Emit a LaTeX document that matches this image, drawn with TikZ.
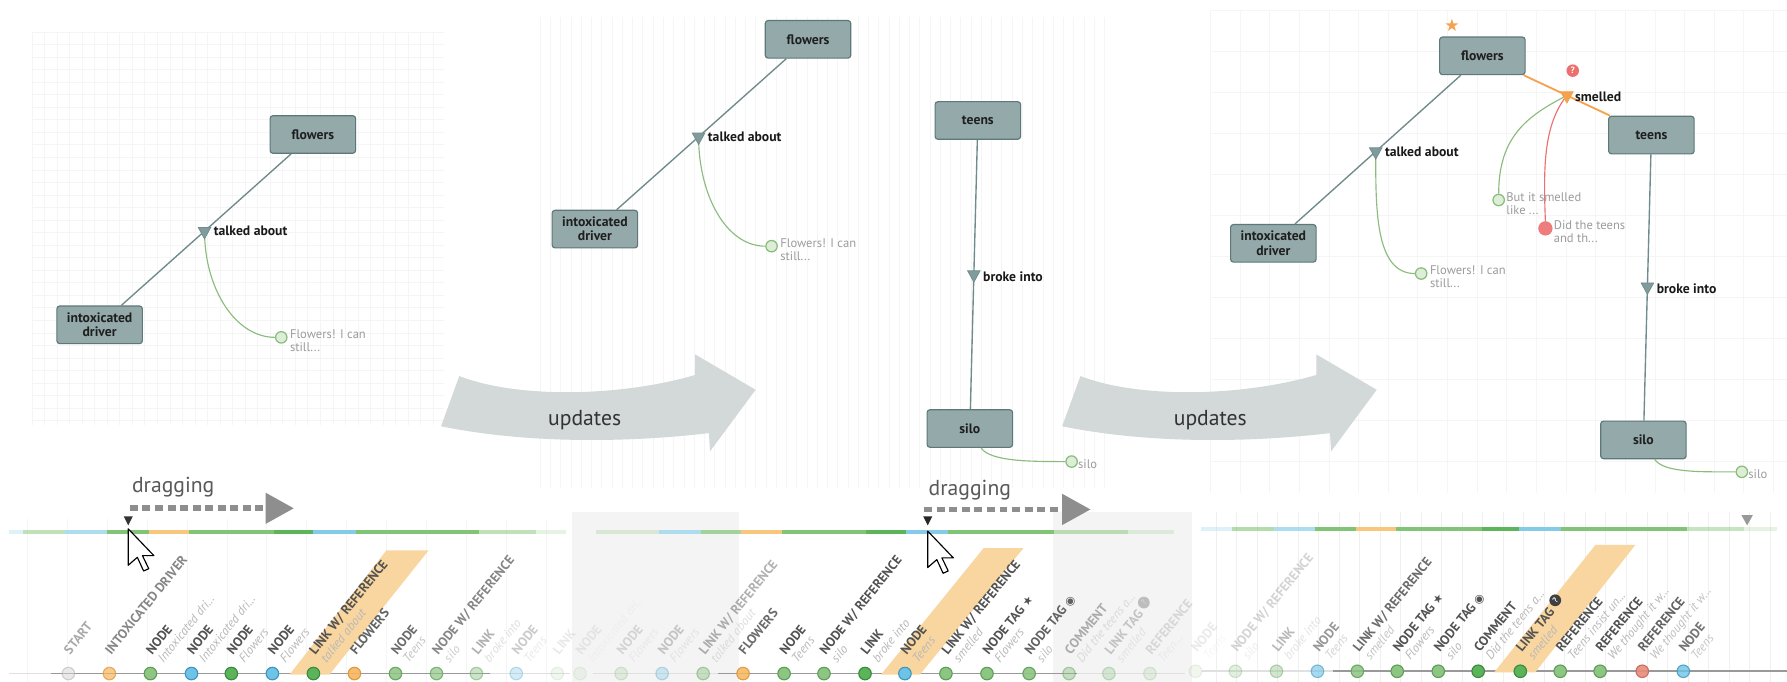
\documentclass[tikz,border=0pt]{standalone}
\usepackage{fontspec}
\setmainfont{PT Sans}
\newfontfamily\symfont{DejaVu Sans}
\usetikzlibrary{calc,shapes.geometric,arrows.meta}

\definecolor{boxfill}{HTML}{93A9AA}
\definecolor{boxdraw}{HTML}{5E7778}
\definecolor{linkc}{HTML}{6F8B8C}
\definecolor{trifill}{HTML}{7F9B9C}
\definecolor{cgreen}{HTML}{8CBB7E}
\definecolor{cgreenfill}{HTML}{DDEED6}
\definecolor{cred}{HTML}{EC7070}
\definecolor{corange}{HTML}{F5A24E}
\definecolor{arrowc}{HTML}{D3D8D8}
\definecolor{txtgray}{HTML}{9C9C9C}
\definecolor{dragc}{HTML}{8E8E8E}
\definecolor{gridc}{HTML}{F5F5F5}
\definecolor{bandc}{HTML}{F9D6A0}
\definecolor{panelgray}{HTML}{F4F4F4}
\definecolor{tgrayF}{HTML}{D6D6D6}\definecolor{tgrayD}{HTML}{ABABAB}
\definecolor{torangeF}{HTML}{F7B55E}\definecolor{torangeD}{HTML}{D9963A}
\definecolor{tgreenF}{HTML}{8DC583}\definecolor{tgreenD}{HTML}{5E9E58}
\definecolor{tdkgreenF}{HTML}{5BB35A}\definecolor{tdkgreenD}{HTML}{3D8A3E}
\definecolor{tblueF}{HTML}{6EC3E6}\definecolor{tblueD}{HTML}{3E97BF}
\definecolor{tredF}{HTML}{E98C7C}\definecolor{tredD}{HTML}{C4685B}
\definecolor{bargreen}{HTML}{82C475}
\definecolor{bardkgreen}{HTML}{5DB55B}
\definecolor{barlblue}{HTML}{AEDCEF}
\definecolor{barblue}{HTML}{84CBE8}
\definecolor{barorange}{HTML}{F8C67C}

\tikzset{
 ent/.style={draw=boxdraw, fill=boxfill, rounded corners=2.5pt, line width=1pt,
   minimum width=75pt, minimum height=33pt, inner sep=1pt, align=center,
   font=\bfseries\fontsize{12}{12.5}\selectfont, text=black!88},
 lnk/.style={draw=linkc, line width=1.2pt},
 olnk/.style={draw=corange, line width=1.6pt},
 tri/.style={isosceles triangle, isosceles triangle stretches, shape border rotate=270,
   minimum width=11pt, minimum height=10pt, inner sep=0, fill=trifill, draw=linkc, line width=0.6pt},
 otri/.style={tri, fill=corange, draw=corange},
 llab/.style={anchor=west, inner sep=0, font=\bfseries\fontsize{12}{13}\selectfont, text=black!90},
 cmt/.style={circle, minimum size=10pt, inner sep=0, draw=cgreen, fill=cgreenfill, line width=1.1pt},
 rcmt/.style={circle, minimum size=12pt, inner sep=0, fill=cred!90, draw=cred},
 ctext/.style={anchor=north west, inner sep=0, align=left, font=\fontsize{11}{11.5}\selectfont, text=txtgray},
 gcurve/.style={draw=cgreen, line width=1pt},
 rcurve/.style={draw=cred, line width=1pt},
 gridline/.style={draw=gridc, line width=0.5pt},
 bigarrow/.style={fill=arrowc},
 upd/.style={font=\fontsize{19}{20}\selectfont, text=black!80},
 dragtxt/.style={font=\fontsize{19}{20}\selectfont, text=black!65},
 dragarrow/.style={draw=dragc, line width=5pt, dash pattern=on 7pt off 4pt, -{Triangle[length=25pt,width=26pt]}},
 tcirc/.style={circle, minimum size=11pt, inner sep=0, line width=1pt},
 tgray/.style={fill=tgrayF, draw=tgrayD},
 torange/.style={fill=torangeF, draw=torangeD},
 tgreen/.style={fill=tgreenF, draw=tgreenD},
 tdkgreen/.style={fill=tdkgreenF, draw=tdkgreenD},
 tblue/.style={fill=tblueF, draw=tblueD},
 tred/.style={fill=tredF, draw=tredD},
 tlA/.style={rotate=51, anchor=base west, inner sep=0, font=\bfseries\fontsize{11.5}{12}\selectfont, text=black!68},
 tlB/.style={rotate=51, anchor=base west, inner sep=0, font=\itshape\fontsize{11}{12}\selectfont, text=black!28},
 bar/.style={line width=3.5pt},
 tbase/.style={line width=1.4pt},
 cursorshape/.style={fill=white, draw=black, line width=1pt, line join=round},
}

\newcommand{\qicon}{\tikz[baseline=-0.35em]\node[circle,fill=black!75,text=white,inner sep=0pt,minimum size=0.9em,font=\bfseries\fontsize{7}{7}\selectfont]{?};}
\newcommand{\sicon}{{\symfont\fontsize{10}{10}\selectfont ◉}}
\newcommand{\sticon}{{\symfont\fontsize{10}{10}\selectfont ★}}

% x, y, circle style, line1, line2, opacity
\newcommand{\tli}[6]{%
 \node[tcirc,#3,opacity=#6] (tc#1) at (#1,#2) {};
 \node[tlA,opacity=#6,text opacity=#6] (ta#1) at ({#1+1.5},{#2-16}) {#4};
 \node[tlB,opacity=#6,text opacity=#6] (tb#1) at ({#1+11.5},{#2-9}) {#5};
}

\begin{document}
\begin{tikzpicture}[x=1pt,y=-1pt]
\useasboundingbox (0,0) rectangle (1568,598);
\fill[white] (0,0) rectangle (1568,598);

% ---------- faint grids of the graph panels
\foreach \gx in {28,39,...,390} \draw[gridline] (\gx,28) -- (\gx,373);
\foreach \gy in {28,39,...,373} \draw[gridline] (28,\gy) -- (390,\gy);
\foreach \gx in {474,483,...,975} \draw[gridline] (\gx,15) -- (\gx,428);
\foreach \gx in {1062,1088,...,1568} \draw[gridline] (\gx,9) -- (\gx,433);
\foreach \gy in {9,45,...,433} \draw[gridline] (1062,\gy) -- (1568,\gy);

% ---------- timeline backgrounds
\fill[panelgray] (502,449) rectangle (648,598);
\fill[panelgray] (924,449) rectangle (1046,598);
\foreach \gx in {24,59,...,500} \draw[gridline] (\gx,455) -- (\gx,598);
\foreach \gx in {1067,1085,...,1568} \draw[draw=black!6, line width=0.6pt] (\gx,449) -- (\gx,598);

% ---------- big "updates" arrows
\path[bigarrow] (948,330) .. controls (1000,350) and (1090,348) .. (1155,329) -- (1155,311) -- (1208,342)
  -- (1168,396) -- (1167,380) .. controls (1100,388) and (1010,390) .. (932,374) -- cycle;
\begin{scope}[xshift=-545pt]
\path[bigarrow] (948,330) .. controls (1000,350) and (1090,348) .. (1155,329) -- (1155,311) -- (1208,342)
  -- (1168,396) -- (1167,380) .. controls (1100,388) and (1010,390) .. (932,374) -- cycle;
\end{scope}
\node[upd] (up1) at (513,369) {updates};
\node[upd] (up2) at (1062,369) {updates};

% ---------- panel 1 graph
\node[ent] (flw1) at (274.5,118) {flowers};
\node[ent] (drv1) at (87.4,285) {intoxicated\\driver};
\draw[lnk] (drv1) -- coordinate[pos=0.49] (tp1) (flw1);
\node[cmt] (cm1) at (246.8,296) {};
\draw[gcurve] (tp1) .. controls +(0,50) and +(-35,0) .. (cm1.west);
\node[tri] (tr1) at (tp1) {};
\node[llab] (lb1) at ($(tr1)+(8,0)$) {talked about};
\node[ctext] (ct1) at ($(cm1.east)+(2,-7)$) {Flowers! I can\\still...};

% ---------- panel 2 graph
\node[ent] (flw2) at (709,34.5) {flowers};
\node[ent] (drv2) at (522,201) {intoxicated\\driver};
\draw[lnk] (drv2) -- coordinate[pos=0.483] (tp2) (flw2);
\node[cmt] (cm2) at (677,216) {};
\draw[gcurve] (tp2) .. controls +(0,50) and +(-35,0) .. (cm2.west);
\node[tri] (tr2) at (tp2) {};
\node[llab] (lb2) at ($(tr2)+(8,0)$) {talked about};
\node[ctext] (ct2) at ($(cm2.east)+(2,-7)$) {Flowers! I can\\still...};

\node[ent] (tee2) at (858,105.7) {teens};
\node[ent] (sil2) at (851,376) {silo};
\draw[lnk] (tee2) -- coordinate[pos=0.5] (tp3) (sil2);
\node[tri] (tr3) at (tp3) {};
\node[llab] (lb3) at ($(tr3)+(8,2)$) {broke into};
\node[cmt] (cm3) at (940.3,405) {};
\draw[gcurve] (sil2.300) .. controls +(8,12) and +(-30,0) .. (cm3.west);
\node[ctext] (ct3) at ($(cm3.east)+(0,-2)$) {silo};

% ---------- panel 3 graph
\node[ent] (flw3) at (1300.7,49) {flowers};
\node[ent] (drv3) at (1117.3,213.5) {intoxicated\\driver};
\draw[lnk] (drv3) -- coordinate[pos=0.487] (tp4) (flw3);
\node[cmt] (cm4) at (1247,240) {};
\draw[gcurve] (tp4) .. controls +(0,50) and +(-35,0) .. (cm4.west);
\node[tri] (tr4) at (tp4) {};
\node[llab] (lb4) at ($(tr4)+(8,0)$) {talked about};
\node[ctext] (ct4) at ($(cm4.east)+(2,-7)$) {Flowers! I can\\still...};

\node[ent] (tee3) at (1449,118.5) {teens};
\node[ent] (sil3) at (1442,386) {silo};
\draw[lnk] (tee3) -- coordinate[pos=0.497] (tp5) (sil3);
\node[tri] (tr5) at (tp5) {};
\node[llab] (lb5) at ($(tr5)+(8,2)$) {broke into};
\node[cmt] (cm5) at (1528.4,414) {};
\draw[gcurve] (sil3.300) .. controls +(8,12) and +(-30,0) .. (cm5.west);
\node[ctext] (ct5) at ($(cm5.east)+(0,-2)$) {silo};

\draw[olnk] (flw3) -- coordinate[pos=0.5] (tp6) (tee3);
\node[cmt] (cm6) at (1315,175.5) {};
\node[rcmt] (cm7) at (1356,200.4) {};
\draw[gcurve] (tp6) .. controls +(-35,18) and +(0,-50) .. (cm6.north);
\draw[rcurve] (tp6) .. controls +(-20,25) and +(-2,-50) .. (cm7.north);
\node[otri] (tr6) at (tp6) {};
\node[llab] (lb6) at ($(tr6)+(7,1)$) {smelled};
\node[ctext] (ct6) at ($(cm6.east)+(1,-7)$) {But it smelled\\like ...};
\node[ctext] (ct7) at ($(cm7.east)+(1,-7)$) {Did the teens\\and th...};
\node[text=corange, inner sep=0, font=\symfont\fontsize{15}{15}\selectfont] (star) at (1274,22) {★};
\node[circle, fill=cred, text=white, inner sep=0, minimum size=11pt, font=\bfseries\fontsize{8}{8}\selectfont] (qm) at (1380,62) {?};

% ---------- dragging
\node[dragtxt] (dg1) at (152,427) {dragging};
\node[dragtxt] (dg2) at (851,430) {dragging};
\coordinate (ds1) at (114,446); \coordinate (de1) at (258,446);
\coordinate (ds2) at (811,447); \coordinate (de2) at (957,447);
\draw[dragarrow] (ds1) -- (de1);
\draw[dragarrow] (ds2) -- (de2);

% ---------- timeline bars
\draw[bar,barlblue,opacity=.4] (8,467)--(20,467);
\draw[bar,bargreen,opacity=.5] (20,467)--(57,467);
\draw[bar,barlblue] (57,467)--(94,467);
\draw[bar,bargreen] (94,467)--(131,467);
\draw[bar,barorange] (131,467)--(166,467);
\draw[bar,bargreen] (166,467)--(240,467);
\draw[bar,bardkgreen] (240,467)--(275,467);
\draw[bar,barblue] (275,467)--(312,467);
\draw[bar,bargreen] (312,467)--(420,467);
\draw[bar,bargreen,opacity=.5] (420,467)--(470,467);
\draw[bar,bargreen,opacity=.2] (470,467)--(497,467);

\draw[bar,bargreen,opacity=.25] (523,467)--(578,467);
\draw[bar,barlblue] (578,467)--(615,467);
\draw[bar,bargreen,opacity=.7] (615,467)--(650,467);
\draw[bar,barorange] (650,467)--(686,467);
\draw[bar,bargreen] (686,467)--(760,467);
\draw[bar,bardkgreen] (760,467)--(795,467);
\draw[bar,barblue] (795,467)--(832,467);
\draw[bar,bargreen] (832,467)--(925,467);
\draw[bar,bargreen,opacity=.5] (925,467)--(990,467);
\draw[bar,bargreen,opacity=.2] (990,467)--(1030,467);

\draw[bar,barlblue,opacity=.4] (1054,464)--(1081,464);
\draw[bar,bargreen,opacity=.6] (1081,464)--(1118,464);
\draw[bar,barlblue] (1118,464)--(1154,464);
\draw[bar,bargreen] (1154,464)--(1190,464);
\draw[bar,barorange] (1190,464)--(1225,464);
\draw[bar,bargreen] (1225,464)--(1300,464);
\draw[bar,bardkgreen] (1300,464)--(1333,464);
\draw[bar,barblue] (1333,464)--(1370,464);
\draw[bar,bargreen] (1370,464)--(1480,464);
\draw[bar,bargreen,opacity=.45] (1480,464)--(1530,464);
\draw[bar,bargreen,opacity=.2] (1530,464)--(1559,464);

% ---------- baselines
\draw[tbase,black!12] (8,591)--(45,591);
\draw[tbase,black!40] (45,591)--(430,591);
\draw[tbase,black!12] (430,591)--(500,591);
\draw[tbase,black!12] (520,591)--(630,591);
\draw[tbase,black!40] (630,591)--(945,591);
\draw[tbase,black!12] (945,591)--(1040,591);
\draw[tbase,black!12] (1055,589)--(1170,589);
\draw[tbase,black!40] (1170,589)--(1568,589);

% ---------- highlight bands
\fill[bandc] (254,592) -- (289,592) -- (376,483) -- (339,483) -- cycle;
\fill[bandc] (773,592) -- (807,592) -- (898,481) -- (863,481) -- cycle;
\fill[bandc] (1311,590) -- (1347,590) -- (1435,478) -- (1400,478) -- cycle;

% ---------- timeline items, panel 1
\tli{60}{591}{tgray}{START}{}{0.5}
\tli{96}{591}{torange}{INTOXICATED DRIVER}{}{0.7}
\tli{132}{591}{tgreen}{NODE}{Intoxicated dri...}{1}
\tli{168}{591}{tblue}{NODE}{Intoxicated dri...}{1}
\tli{203}{591}{tdkgreen}{NODE}{Flowers}{1}
\tli{239}{591}{tblue}{NODE}{Flowers}{1}
\tli{275}{591}{tdkgreen}{LINK W/ REFERENCE}{talked about}{1}
\tli{311}{591}{torange}{FLOWERS}{}{0.9}
\tli{347}{591}{tgreen}{NODE}{Teens}{0.85}
\tli{383}{591}{tgreen}{NODE W/ REFERENCE}{silo}{0.7}
\tli{418}{591}{tgreen}{LINK}{broke into}{0.45}
\tli{453}{591}{tblue}{NODE}{Teens}{0.3}
\tli{489}{591}{tgreen}{LINK}{}{0.12}

% ---------- timeline items, panel 2
\tli{509}{591}{tgreen}{NODE}{Intoxicated dri...}{0.1}
\tli{545}{591}{tgreen}{NODE}{Flowers}{0.2}
\tli{581}{591}{tblue}{NODE}{Flowers}{0.3}
\tli{617}{591}{tgreen}{LINK W/ REFERENCE}{talked about}{0.45}
\tli{652}{591}{torange}{FLOWERS}{}{0.85}
\tli{688}{591}{tgreen}{NODE}{Teens}{1}
\tli{723}{591}{tgreen}{NODE W/ REFERENCE}{silo}{1}
\tli{759}{591}{tdkgreen}{LINK}{broke into}{1}
\tli{794}{591}{tblue}{NODE}{Teens}{1}
\tli{830}{591}{tgreen}{LINK W/ REFERENCE}{smelled}{1}
\tli{866}{591}{tgreen}{NODE TAG \sticon}{Flowers}{1}
\tli{903}{591}{tgreen}{NODE TAG \sicon}{silo}{0.9}
\tli{938}{591}{tgreen}{COMMENT}{Did the teens a...}{0.45}
\tli{973}{591}{tgreen}{LINK TAG \qicon}{smelled}{0.3}
\tli{1009}{591}{tgreen}{REFERENCE}{Teen...}{0.18}

% ---------- timeline items, panel 3
\tli{1049}{589}{tgreen}{NODE}{Teens}{0.12}
\tli{1084}{589}{tgreen}{NODE W/ REFERENCE}{silo}{0.25}
\tli{1120}{589}{tgreen}{LINK}{broke into}{0.4}
\tli{1156}{589}{tblue}{NODE}{Teens}{0.6}
\tli{1191}{589}{tgreen}{LINK W/ REFERENCE}{smelled}{0.85}
\tli{1226}{589}{tgreen}{NODE TAG \sticon}{Flowers}{1}
\tli{1262}{589}{tgreen}{NODE TAG \sicon}{silo}{1}
\tli{1297}{589}{tdkgreen}{COMMENT}{Did the teens a...}{1}
\tli{1334}{589}{tdkgreen}{LINK TAG \qicon}{smelled}{1}
\tli{1369}{589}{tgreen}{REFERENCE}{Teens insist un...}{1}
\tli{1404}{589}{tgreen}{REFERENCE}{We thought it w...}{1}
\tli{1441}{589}{tred}{REFERENCE}{We thought it w...}{0.9}
\tli{1477}{589}{tblue}{NODE}{Teens}{0.8}

% ---------- playheads and cursors
\fill[black!80] (108.5,453) -- (116.5,453) -- (112.5,461) -- cycle;
\fill[black!85] (810,453) -- (818,453) -- (814,461) -- cycle;
\fill[black!40] (1528,452) -- (1538,452) -- (1533,461) -- cycle;
\draw[cursorshape] (112.5,464) -- ++(0,32) -- ++(8,-7) -- ++(5.5,12) -- ++(4.5,-2) -- ++(-5.5,-11.5) -- ++(10,0) -- cycle;
\draw[cursorshape] (814,466) -- ++(0,32) -- ++(8,-7) -- ++(5.5,12) -- ++(4.5,-2) -- ++(-5.5,-11.5) -- ++(10,0) -- cycle;

\end{tikzpicture}
\end{document}
